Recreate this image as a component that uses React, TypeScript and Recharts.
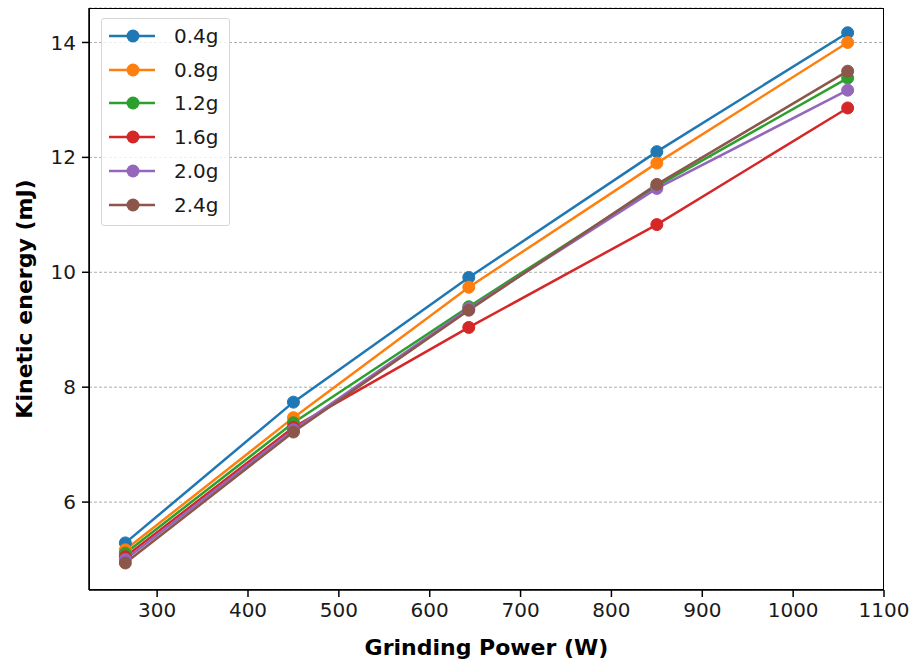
import { LineChart, Line, XAxis, YAxis, CartesianGrid } from 'recharts';

const powers = [265, 450, 643, 850, 1060];

const seriesNames = ['0.4g', '0.8g', '1.2g', '1.6g', '2.0g', '2.4g'];

const energy04 = [5.29, 7.74, 9.91, 12.1, 14.17];
const energy08 = [5.17, 7.47, 9.74, 11.9, 14.0];
const energy12 = [5.11, 7.38, 9.4, 11.5, 13.38];
const energy16 = [5.05, 7.3, 9.04, 10.83, 12.86];
const energy20 = [5.0, 7.26, 9.37, 11.46, 13.17];
const energy24 = [4.94, 7.22, 9.34, 11.53, 13.5];

const xTicks = [300, 400, 500, 600, 700, 800, 900, 1000, 1100];
const yTicks = [6, 8, 10, 12, 14];

const colors = ['#1f77b4', '#ff7f0e', '#2ca02c', '#d62728', '#9467bd', '#8c564b'];

const allSeries = [energy04, energy08, energy12, energy16, energy20, energy24];

const data = powers.map((p, i) => {
    const row: Record<string, number> = { power: p };
    seriesNames.forEach((name, s) => {
        row[name] = allSeries[s][i];
    });
    return row;
});

const font = '"DejaVu Sans", sans-serif';

function LegendBox() {
    return (
        <div
            style={{
                position: 'absolute',
                left: 101,
                top: 18,
                width: 129,
                height: 208,
                border: '1px solid #d6d6d6',
                borderRadius: 3,
                background: 'rgba(255,255,255,0.8)',
                fontFamily: font,
                fontSize: 20,
                color: '#1a1a1a',
                boxSizing: 'border-box',
                paddingTop: 0,
            }}
        >
            {seriesNames.map((name, i) => (
                <div key={name} style={{ height: 33.8, display: 'flex', alignItems: 'center' }}>
                    <svg width={62} height={20} style={{ marginLeft: 6 }}>
                        <line x1={1} y1={10} x2={47} y2={10} stroke={colors[i]} strokeWidth={2.5} />
                        <circle cx={25} cy={10} r={6.5} fill={colors[i]} />
                    </svg>
                    <span style={{ marginLeft: 4 }}>{name}</span>
                </div>
            ))}
        </div>
    );
}

export default function App() {
    return (
        <div style={{ position: 'absolute', left: 0, top: 0, width: 915, height: 664, background: '#fff' }}>
            <LineChart
                width={915}
                height={664}
                data={data}
                margin={{ top: 8, right: 31, left: 0, bottom: 0 }}
            >
                <CartesianGrid
                    vertical={false}
                    stroke="#999"
                    strokeDasharray="3 2"
                    strokeWidth={0.8}
                />
                <XAxis
                    dataKey="power"
                    type="number"
                    domain={[225, 1100]}
                    ticks={xTicks}
                    allowDataOverflow
                    height={74}
                    stroke="#000"
                    strokeWidth={1.5}
                    tickSize={7}
                    tickMargin={6}
                    tick={{ fill: '#1a1a1a', fontSize: 20, fontFamily: font }}
                    label={{
                        value: 'Grinding Power (W)',
                        position: 'insideBottom',
                        offset: 9,
                        fill: '#000',
                        fontSize: 22,
                        fontWeight: 'bold',
                        fontFamily: font,
                    }}
                />
                <YAxis
                    type="number"
                    domain={[4.47, 14.6]}
                    ticks={yTicks}
                    allowDataOverflow
                    width={89}
                    stroke="#000"
                    strokeWidth={1.5}
                    tickSize={7}
                    tickMargin={6}
                    tick={{ fill: '#1a1a1a', fontSize: 20, fontFamily: font }}
                    label={{
                        value: 'Kinetic energy (mJ)',
                        angle: -90,
                        position: 'insideLeft',
                        offset: 24,
                        style: { textAnchor: 'middle' },
                        fill: '#000',
                        fontSize: 22,
                        fontWeight: 'bold',
                        fontFamily: font,
                    }}
                />
                {seriesNames.map((name, i) => (
                    <Line
                        key={name}
                        type="linear"
                        dataKey={name}
                        stroke={colors[i]}
                        strokeWidth={2.5}
                        dot={{ r: 6, fill: colors[i], stroke: colors[i], strokeWidth: 1 }}
                        activeDot={false}
                        isAnimationActive={false}
                    />
                ))}
            </LineChart>
            <div
                style={{
                    position: 'absolute',
                    left: 89,
                    top: 8,
                    width: 795,
                    height: 582,
                    border: '1.5px solid #000',
                    boxSizing: 'border-box',
                    pointerEvents: 'none',
                }}
            />
            <LegendBox />
        </div>
    );
}
